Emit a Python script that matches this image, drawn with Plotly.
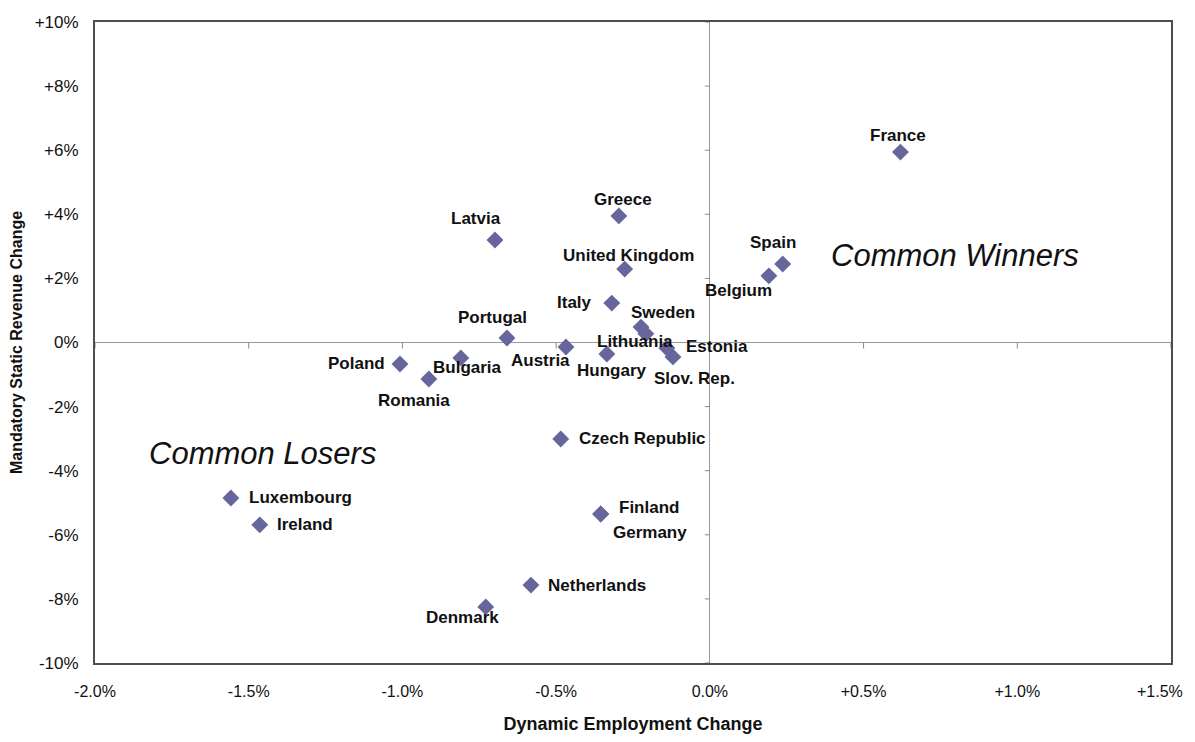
import plotly.graph_objects as go

# Datos (en %)
paises = ["France", "Spain", "Belgium", "Greece", "United Kingdom", "Latvia",
          "Italy", "Sweden", "Lithuania", "Estonia", "Slov. Rep.", "Portugal",
          "Austria", "Hungary", "Poland", "Bulgaria", "Romania", "Czech Republic",
          "Luxembourg", "Ireland", "Finland", "Germany", "Netherlands", "Denmark"]
empleo = [0.62, 0.237, 0.192, -0.296, -0.277, -0.699,
          -0.319, -0.224, -0.208, -0.140, -0.120, -0.660,
          -0.468, -0.335, -1.008, -0.810, -0.914, -0.485,
          -1.558, -1.464, -0.355, -0.355, -0.582, -0.729]
ingresos = [5.94, 2.45, 2.08, 3.95, 2.29, 3.20,
            1.23, 0.48, 0.27, -0.17, -0.45, 0.14,
            -0.14, -0.36, -0.67, -0.48, -1.14, -3.01,
            -4.85, -5.69, -5.35, -5.35, -7.57, -8.25]

x_ticks = [-2.0, -1.5, -1.0, -0.5, 0.0, 0.5, 1.0, 1.5]
x_ticktext = ["-2.0%", "-1.5%", "-1.0%", "-0.5%", "0.0%", "+0.5%", "+1.0%", "+1.5%"]
y_ticks = [-10, -8, -6, -4, -2, 0, 2, 4, 6, 8, 10]
y_ticktext = ["-10%", "-8%", "-6%", "-4%", "-2%", "0%", "+2%", "+4%", "+6%", "+8%", "+10%"]

# Posición de cada etiqueta respecto a su punto: (xshift, yshift, xanchor)
pos_etiquetas = {
    "France": (-2, 17, "center"), "Spain": (-10, 21, "center"),
    "Belgium": (-30, -15, "center"), "Greece": (4, 16, "center"),
    "United Kingdom": (4, 14, "center"), "Latvia": (-19, 21, "center"),
    "Italy": (-18, 1, "right"), "Sweden": (22, 15, "center"),
    "Lithuania": (-11, -8, "center"), "Estonia": (50, 1, "center"),
    "Slov. Rep.": (22, -22, "center"), "Portugal": (-14, 21, "center"),
    "Austria": (-25, -14, "center"), "Hungary": (5, -16, "center"),
    "Poland": (-13, 0, "right"), "Bulgaria": (7, -10, "center"),
    "Romania": (-15, -21, "center"), "Czech Republic": (16, 0, "left"),
    "Luxembourg": (16, 0, "left"), "Ireland": (15, 0, "left"),
    "Finland": (16, 6, "left"), "Germany": (49, -19, "center"),
    "Netherlands": (15, 0, "left"), "Denmark": (-23, -11, "center"),
}

FUENTE = "Liberation Sans, Arial, sans-serif"

fig = go.Figure()

fig.add_trace(go.Scatter(
    x=empleo, y=ingresos, mode="markers", text=paises,
    marker=dict(symbol="diamond", size=13, color="#66669c"),
    hoverinfo="text", showlegend=False
))

for pais, xv, yv in zip(paises, empleo, ingresos):
    dx, dy, anc = pos_etiquetas[pais]
    fig.add_annotation(x=xv, y=yv, text=pais, showarrow=False,
                       xshift=dx, yshift=dy, xanchor=anc, yanchor="middle",
                       font=dict(family=FUENTE, size=17, color="#111111",
                                 weight="bold"))

# Etiquetas de cuadrante
fig.add_annotation(x=0.797, y=2.73, text="Common Winners", showarrow=False,
                   font=dict(family=FUENTE, size=31, color="#111111", style="italic"))
fig.add_annotation(x=-1.454, y=-3.45, text="Common Losers", showarrow=False,
                   font=dict(family=FUENTE, size=31, color="#111111", style="italic"))

# La última etiqueta del eje X se desplaza a la izquierda para que no se corte
fig.add_annotation(x=x_ticks[-1], y=0, xref="x", yref="paper", text=x_ticktext[-1],
                   showarrow=False, xanchor="right", yanchor="middle",
                   xshift=14, yshift=-28,
                   font=dict(family=FUENTE, size=16, color="#111111"))

# Marcas de graduación sobre los ejes que se cruzan en 0
for t in y_ticks:
    fig.add_shape(type="line", xref="x", yref="y", xsizemode="pixel", xanchor=0,
                  x0=-5, x1=0, y0=t, y1=t, line=dict(color="#888888", width=1))
for t in x_ticks:
    fig.add_shape(type="line", xref="x", yref="y", ysizemode="pixel", yanchor=0,
                  y0=-6, y1=0, x0=t, x1=t, line=dict(color="#888888", width=1))

# La página añade 8 px de margen: el lienzo se reduce para caber en la ventana
fig.update_layout(
    width=1187, height=726,
    margin=dict(l=87, r=24, t=14, b=71),
    plot_bgcolor="white", paper_bgcolor="white",
    font=dict(family=FUENTE, color="#111111"),
    xaxis=dict(
        range=[-2.0, 1.5], tickvals=x_ticks,
        ticktext=x_ticktext[:-1] + [""], automargin=False,
        showgrid=False, zeroline=True, zerolinecolor="#999999", zerolinewidth=1,
        showline=True, mirror=True, linecolor="#4d4d4d", linewidth=2,
        ticks="", ticklabelstandoff=13, tickfont=dict(size=16),
        ticklabeloverflow="allow",
        title=dict(text="<b>Dynamic Employment Change</b>", standoff=22,
                   font=dict(size=18))
    ),
    yaxis=dict(
        range=[-10, 10], tickvals=y_ticks, ticktext=y_ticktext, automargin=False,
        showgrid=False, zeroline=True, zerolinecolor="#999999", zerolinewidth=1,
        showline=True, mirror=True, linecolor="#4d4d4d", linewidth=2,
        ticks="", ticklabelstandoff=11, tickfont=dict(size=17),
        ticklabeloverflow="allow",
        title=dict(text="<b>Mandatory Static Revenue Change</b>", standoff=16,
                   font=dict(size=16))
    ),
)

fig.write_html("out.html")
